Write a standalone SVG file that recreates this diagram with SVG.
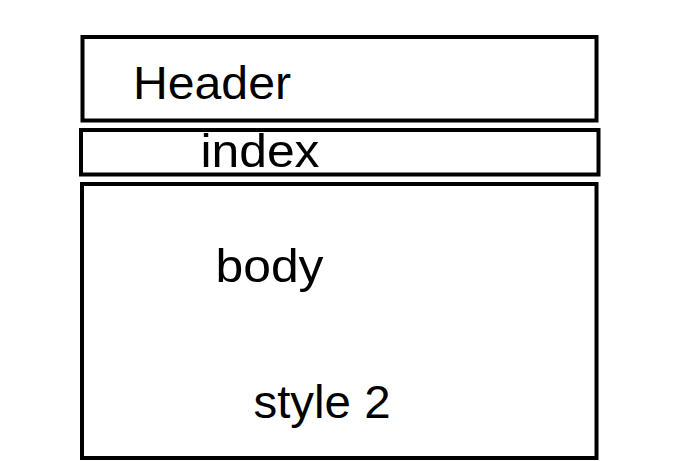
<svg xmlns="http://www.w3.org/2000/svg" width="680" height="461" viewBox="0 0 680 461">
<style>
.box{fill:#fff;stroke:#000;stroke-width:4}
.lbl{font-family:"Liberation Sans",Arial,sans-serif;font-size:47px;fill:#000}
</style>
<rect width="680" height="461" fill="#fff"/>
<g id="header">
<rect class="box" x="82.5" y="37" width="514" height="83.5"/>
<text class="lbl" x="133" y="99" textLength="158" lengthAdjust="spacingAndGlyphs">Header</text>
</g>
<g id="index">
<rect class="box" x="81" y="130" width="517.5" height="44.5"/>
<text class="lbl" x="200.5" y="167" textLength="119" lengthAdjust="spacingAndGlyphs">index</text>
</g>
<g id="body">
<rect class="box" x="82" y="184" width="514.5" height="274"/>
<text class="lbl" x="215.5" y="282" textLength="108" lengthAdjust="spacingAndGlyphs">body</text>
<text class="lbl" x="253.5" y="418" textLength="137" lengthAdjust="spacingAndGlyphs">style 2</text>
</g>
<g id="connectors"/>
</svg>
